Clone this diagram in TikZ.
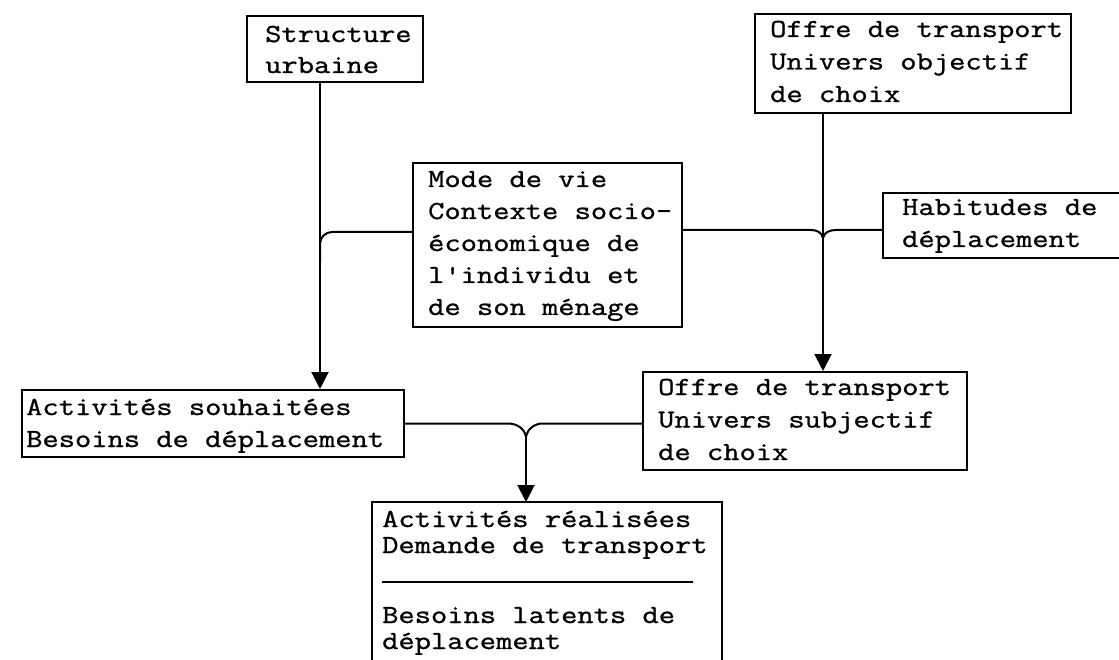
\documentclass[tikz,border=0pt]{standalone}
\usepackage{fontspec}
\setmonofont{Latin Modern Mono}[FakeStretch=1.215, FakeBold=1]
\usetikzlibrary{arrows.meta,calc}
\newcommand\stacklines[2]{\vtop{\baselineskip=#1\lineskiplimit=-\maxdimen\lineskip=0pt\relax #2}}
\tikzset{
  box/.style={draw, line width=2pt, inner sep=0pt, anchor=north west},
  openbox/.style={inner sep=0pt, anchor=north west},
  txt/.style={anchor=base west, inner sep=0pt, font=\ttfamily\fontsize{26pt}{32pt}\selectfont},
  ln/.style={line width=2pt},
  arr/.style={line width=2pt, -{Triangle[width=17pt,length=17pt]}},
}
\begin{document}
\begin{tikzpicture}[x=1pt,y=1pt]
\useasboundingbox (0,0) rectangle (1119,-660);
\fill[white] (0,0) rectangle (1119,-660);

% boxes
\node[box, minimum width=176pt, minimum height=66pt] (su) at (246,-15) {};
\node[box, minimum width=316pt, minimum height=99pt] (obj) at (754,-13) {};
\node[box, minimum width=269pt, minimum height=164pt] (mv) at (412,-162) {};
\node[openbox, minimum width=236pt, minimum height=65pt] (hab) at (883,-193) {};
\draw[ln] (hab.north east) -- (hab.north west) -- (hab.south west) -- (hab.south east);
\node[box, minimum width=382pt, minimum height=67pt] (souh) at (21,-389) {};
\node[box, minimum width=324pt, minimum height=98pt] (subj) at (642,-371) {};
\node[openbox, minimum width=350pt, minimum height=158pt] (real) at (372,-502) {};
\draw[ln] (real.south west) -- (real.north west) -- (real.north east) -- (real.south east);
\draw[ln] (382,-582) -- (693,-582);

% texts
\node[txt] (su-t) at (265,-42) {\stacklines{31pt}{\hbox{Structure}\hbox{urbaine}}};
\node[txt] (obj-t) at (770,-37) {\stacklines{32.5pt}{\hbox{Offre de transport}\hbox{Univers objectif}\hbox{de choix}}};
\node[txt] (mv-t) at (428,-187) {\stacklines{32pt}{\hbox{Mode de vie}\hbox{Contexte socio-}\hbox{économique de}\hbox{l'individu et}\hbox{de son ménage}}};
\node[txt] (hab-t) at (902,-215) {\stacklines{32pt}{\hbox{Habitudes de}\hbox{déplacement}}};
\node[txt] (souh-t) at (26,-415) {\stacklines{32pt}{\hbox{Activités souhaitées}\hbox{Besoins de déplacement}}};
\node[txt] (subj-t) at (658,-395) {\stacklines{32.5pt}{\hbox{Offre de transport}\hbox{Univers subjectif}\hbox{de choix}}};
\node[txt] (real-t1) at (382,-527) {\stacklines{26pt}{\hbox{Activités réalisées}\hbox{Demande de transport}}};
\node[txt] (real-t2) at (382,-623) {\stacklines{26pt}{\hbox{Besoins latents de}\hbox{déplacement}}};

% connectors
\coordinate (j1) at (320,-232);
\coordinate (k1) at (320,-262);
\draw[arr] (su.south -| j1) -- (souh.north -| j1);
\draw[ln, rounded corners=12pt] (mv.west |- j1) -| (k1);

\coordinate (j2) at (823,-238);
\coordinate (j2t) at (823,-230);
\draw[arr] (obj.south -| j2) -- (subj.north -| j2);
\draw[ln] (mv.east |- j2t) -- ([xshift=-12pt]j2t) to[out=0,in=100] (j2);
\draw[ln] (hab.west |- j2t) -- ([xshift=13pt]j2t) to[out=180,in=80] (j2);

\coordinate (j3) at (526,-437);
\coordinate (j3t) at (souh.east -| j3);
\draw[arr] (j3) -- (real.north -| j3);
\draw[ln] (souh.east) -- ([xshift=-18pt]j3t) to[out=0,in=100] (j3);
\draw[ln] (subj.west |- j3t) -- ([xshift=17pt]j3t) to[out=180,in=80] (j3);
\end{tikzpicture}
\end{document}
